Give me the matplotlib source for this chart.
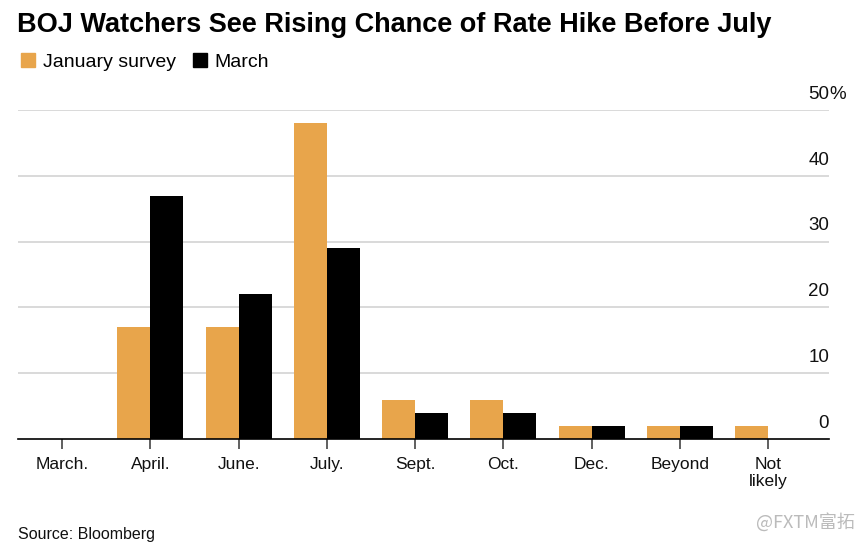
import numpy as np
import matplotlib.pyplot as plt
from matplotlib.lines import Line2D
from matplotlib import font_manager

# dados do gráfico
categorias = ['March.', 'April.', 'June.', 'July.', 'Sept.', 'Oct.', 'Dec.', 'Beyond', 'Not\nlikely']
janeiro = [0, 17, 17, 48, 6, 6, 2, 2, 2]
marco = [0, 37, 22, 29, 4, 4, 2, 2, 0]
y_ticks = [0, 10, 20, 30, 40, 50]
y_labels = ['0', '10', '20', '30', '40', '50']

laranja = '#E8A54B'
preto = '#000000'

nomes = {f.name for f in font_manager.fontManager.ttflist}
fonte = 'Liberation Sans' if 'Liberation Sans' in nomes else 'DejaVu Sans'
plt.rcParams['font.family'] = [fonte, 'DejaVu Sans']

fig = plt.figure(figsize=(8.64, 5.6), dpi=100)
ax = fig.add_axes([18 / 864, 1 - 439 / 560, (829 - 18) / 864, (439 - 110) / 560])

x = np.arange(len(categorias))
largura = 0.375
ax.bar(x - largura / 2, janeiro, largura, color=laranja, zorder=3)
ax.bar(x + largura / 2, marco, largura, color=preto, zorder=3)

ax.set_xlim(-0.5, len(categorias) - 1 + 0.69)
ax.set_ylim(0, 50)

# grade horizontal e rótulos do eixo y
for v, rot in zip(y_ticks, y_labels):
    if v > 0:
        ax.axhline(v, color='#d3d3d3', lw=1.2, zorder=1)
    ax.text(1.0, v + 1.1, rot, transform=ax.get_yaxis_transform(), ha='right', va='bottom',
            fontsize=13.5, color='#111111')
    if v == max(y_ticks):
        ax.text(1.0, v + 1.1, '%', transform=ax.get_yaxis_transform(), ha='left', va='bottom',
                fontsize=13.5, color='#111111', clip_on=False)

ax.set_yticks([])
for lado in ['top', 'right', 'left']:
    ax.spines[lado].set_visible(False)
ax.spines['bottom'].set_color('black')
ax.spines['bottom'].set_linewidth(1.2)
ax.spines['bottom'].set_zorder(4)

ax.set_xticks(x)
ax.set_xticklabels(categorias, fontsize=12.5, color='#111111', linespacing=1.2)
ax.tick_params(axis='x', length=7, width=1.2, color='#444444', pad=6)

# título e legenda
fig.text(17 / 864, 1 - 25 / 560, 'BOJ Watchers See Rising Chance of Rate Hike Before July',
         fontsize=19.5, fontweight='bold', va='center', ha='left')

handles = [Line2D([], [], marker='s', ls='', markersize=10, color=laranja),
           Line2D([], [], marker='s', ls='', markersize=10, color=preto)]
fig.legend(handles, ['January survey', 'March'], loc='center left',
           bbox_to_anchor=(1 / 864, 1 - 62 / 560), ncol=2, frameon=False,
           fontsize=14, handletextpad=0.25, columnspacing=0.75, handlelength=1.0)

fig.text(18 / 864, 1 - 534 / 560, 'Source: Bloomberg', fontsize=11.5, va='center', ha='left',
         color='#111111')
fig.text(855 / 864, 1 - 522 / 560, '@FXTM富拓', fontsize=13, va='center', ha='right',
         color='#bbbbbb', family=['Noto Sans CJK SC', 'DejaVu Sans'])

fig.savefig('out.png', dpi=100)
